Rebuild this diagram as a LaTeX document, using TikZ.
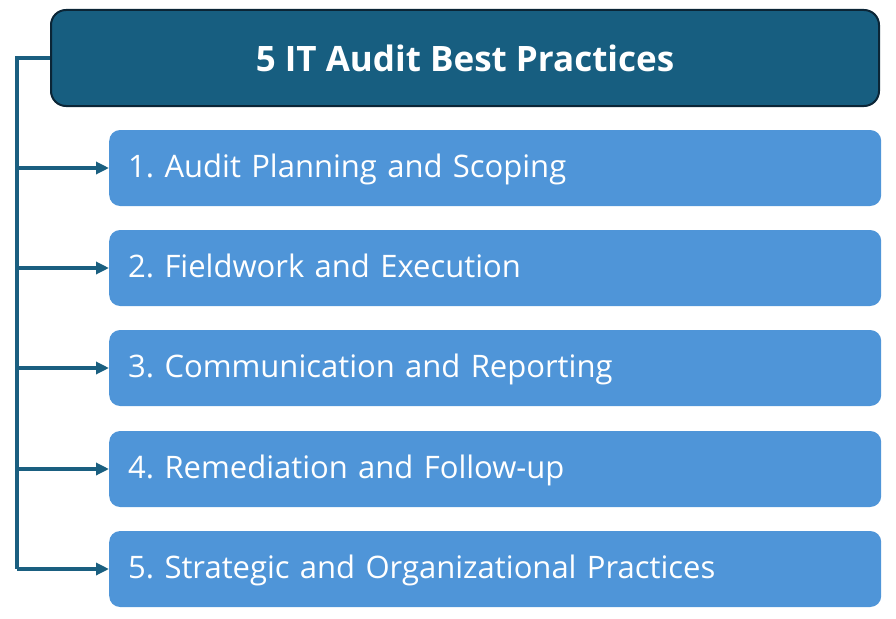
\documentclass[tikz,border=0pt]{standalone}
\usepackage{fontspec}
\setmainfont{Open Sans}
\usepackage{xcolor}
\usetikzlibrary{arrows.meta}
\definecolor{titlefill}{HTML}{175E80}
\definecolor{titleline}{HTML}{0B2536}
\definecolor{itemfill}{HTML}{4F95D8}
\definecolor{linkcol}{HTML}{1A5F80}
\frenchspacing

\begin{document}
\begin{tikzpicture}[x=1pt,y=-1pt,
  title/.style={draw=titleline,line width=2pt,fill=titlefill,rounded corners=15pt,
    minimum width=828pt,minimum height=96pt,text=white,font=\fontsize{35}{40}\selectfont\bfseries},
  item/.style={fill=itemfill,rounded corners=11pt,anchor=west,minimum height=76pt,
    text width=734pt,inner xsep=19pt,text height=21pt,text depth=2pt,align=left,
    text=white,font=\fontsize{31}{36}\selectfont},
  link/.style={draw=linkcol,line width=3.2pt},
  arrow/.style={link,-{Triangle[length=13pt,width=12pt]}}]
\useasboundingbox (0,0) rectangle (896,618);
\node [title] (t) at (465,58) {5 IT Audit Best Practices};
\node [item] (a) at (109,168) {1. Audit Planning and Scoping};
\node [item] (b) at (109,268) {2. Fieldwork and Execution};
\node [item] (c) at (109,368) {3. Communication and Reporting};
\node [item] (d) at (109,469) {4. Remediation and Follow-up};
\node [item] (e) at (109,569) {5. Strategic and Organizational Practices};
% trunk
\draw [link] (t.west) -- (17,58) coordinate (k) -- (k |- e.west);
\foreach \n in {a,b,c,d,e}
  \draw [arrow] (k |- \n.west) -- (\n.west);
\end{tikzpicture}
\end{document}
